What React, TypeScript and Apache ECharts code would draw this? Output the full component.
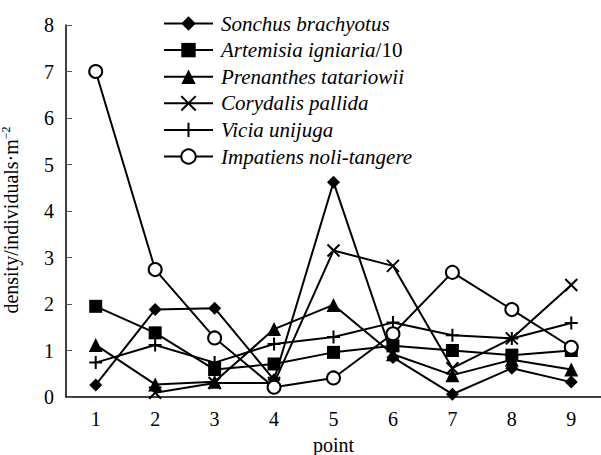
import React, { useEffect, useRef } from "react";
import * as echarts from "echarts";

const categories = ["1", "2", "3", "4", "5", "6", "7", "8", "9"];
const sonchus = [0.26, 1.88, 1.91, 0.37, 4.62, 0.85, 0.06, 0.62, 0.32];
const artemisia = [1.95, 1.38, 0.59, 0.71, 0.96, 1.1, 1.0, 0.9, 1.0];
const prenanthes = [1.12, 0.27, 0.33, 1.46, 1.98, 0.92, 0.47, 0.8, 0.59];
const corydalis: (number | null)[] = [null, 0.09, 0.3, 0.3, 3.15, 2.82, 0.62, 1.26, 2.41];
const vicia = [0.74, 1.12, 0.74, 1.14, 1.29, 1.6, 1.33, 1.26, 1.59];
const impatiens = [7.0, 2.74, 1.27, 0.21, 0.41, 1.36, 2.68, 1.88, 1.07];
const yTicks = [0, 8, 1];

const FONT = "Liberation Serif";
const CROSS = "path://M0,0L10,10M10,0L0,10";
const PLUS = "path://M5,0L5,10M0,5L10,5";

export default function App() {
  const ref = useRef<HTMLDivElement>(null);
  useEffect(() => {
    if (!ref.current) return;
    const chart = echarts.init(ref.current, null, { renderer: "svg" });
    const line = { color: "#000", width: 2 };
    const mk = (
      name: string,
      data: (number | null)[],
      symbol: string,
      size: number,
      fill: string,
      border: number
    ) => ({
      name,
      type: "line",
      data,
      symbol,
      symbolSize: size,
      showAllSymbol: true,
      connectNulls: false,
      lineStyle: line,
      itemStyle: { color: fill, borderColor: "#000", borderWidth: border },
      emphasis: { disabled: true },
    });
    chart.setOption({
      animation: false,
      backgroundColor: "#fff",
      textStyle: { fontFamily: FONT, color: "#000" },
      grid: { left: 66, right: 0, top: 25, bottom: 58, outerBoundsMode: "none", containLabel: false },
      legend: {
        orient: "vertical",
        left: 163,
        top: 13,
        padding: 0,
        itemWidth: 49,
        itemHeight: 18,
        itemGap: 5.6,
        textStyle: {
          fontFamily: FONT,
          fontSize: 21,
          fontStyle: "italic",
          color: "#000",
          lineHeight: 21,
          padding: [0, 0, 0, 3],
          rich: {
            i: { fontFamily: FONT, fontSize: 21, fontStyle: "italic", color: "#000" },
            n: { fontFamily: FONT, fontSize: 21, fontStyle: "normal", color: "#000" },
          },
        },
        formatter: (n: string) =>
          n.endsWith("/10") ? `{i|${n.slice(0, -3)}}{n|/10}` : n,
      },
      xAxis: {
        type: "category",
        data: categories,
        boundaryGap: true,
        name: "point",
        nameLocation: "middle",
        nameGap: 38,
        nameTextStyle: { fontFamily: FONT, fontSize: 20, color: "#000" },
        axisLine: { lineStyle: { color: "#000", width: 1.5 } },
        axisTick: { inside: true, length: 6, lineStyle: { color: "#555" } },
        axisLabel: { fontFamily: FONT, fontSize: 20, color: "#000", margin: 12 },
        splitLine: { show: false },
      },
      yAxis: {
        type: "value",
        min: yTicks[0],
        max: yTicks[1],
        interval: yTicks[2],
        name: "{a|density/individuals·m}{s|−2}",
        nameLocation: "middle",
        nameGap: 44,
        nameTextStyle: {
          fontFamily: FONT,
          fontSize: 20,
          color: "#000",
          padding: [0, 18, 0, 0],
          rich: {
            a: { fontFamily: FONT, fontSize: 20, color: "#000", lineHeight: 22 },
            s: { fontFamily: FONT, fontSize: 12, color: "#000", verticalAlign: "top", lineHeight: 12 },
          },
        },
        axisLine: { show: true, lineStyle: { color: "#000", width: 1.5 } },
        axisTick: { show: true, inside: true, length: 6, lineStyle: { color: "#555" } },
        axisLabel: { fontFamily: FONT, fontSize: 20, color: "#000", margin: 12 },
        splitLine: { show: false },
      },
      series: [
        mk("Sonchus brachyotus", sonchus, "diamond", 13, "#000", 0),
        mk("Artemisia igniaria/10", artemisia, "rect", 13, "#000", 0),
        mk("Prenanthes tatariowii", prenanthes, "triangle", 14, "#000", 0),
        mk("Corydalis pallida", corydalis, CROSS, 12, "none", 2),
        mk("Vicia unijuga", vicia, PLUS, 13, "none", 2),
        mk("Impatiens noli-tangere", impatiens, "circle", 13, "#fff", 2),
      ],
    });
    return () => chart.dispose();
  }, []);
  return <div ref={ref} style={{ width: 601, height: 455, position: "absolute", left: 0, top: 0 }} />;
}
